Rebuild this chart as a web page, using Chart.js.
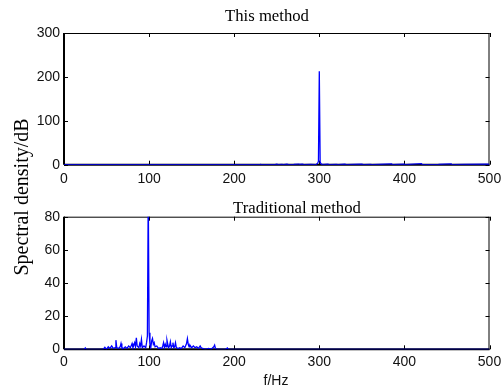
<!DOCTYPE html>
<html><head><meta charset="utf-8">
<script src="https://cdn.jsdelivr.net/npm/chart.js@4"></script>
<style>
html,body{margin:0;padding:0;background:#fff;}
#wrap{position:relative;width:501px;height:392px;background:#fff;}
canvas{position:absolute;left:0;top:0;}
</style></head><body>
<div id="wrap"><canvas id="c1" width="501" height="392"></canvas><canvas id="c2" width="501" height="392"></canvas></div>
<script>
const xTicks = [0, 100, 200, 300, 400, 500];
const topYTicks = [0, 100, 200, 300];
const botYTicks = [0, 20, 40, 60, 80];
const titles = ["This method", "Traditional method"];
const xLabel = "f/Hz";
const yLabel = "Spectral density/dB";

const thisFreq = [0, 230, 231, 232, 248, 250, 252, 256, 258, 262, 264, 270, 276, 277, 280, 282, 290, 296, 298, 299, 300, 301, 302, 303, 310, 312, 320, 322, 330, 332, 340, 350, 352, 360, 362, 370, 385, 386, 392, 400, 401, 420, 421, 440, 455, 456, 470, 498, 500];
const thisVal  = [0, 0,   0.5, 0,   0,   1,   0,   0.8, 0,   1,   0,   0.5, 1.5, 0.5, 1,   0,   0.5, 0,   3,   8,   213, 6,   2,   0,   1,   0,   0.8, 0,   1,   0,   0.5, 1,   0,   0.8, 0,   0.5, 2,   0,   0.5, 1.5, 0,   2.5, 0,   0.5, 2,   0,   0.5, 1,   0];

const tradFreq = [0, 24, 25, 26, 46, 48, 50, 52, 54, 56, 58, 60, 61, 62, 64, 66, 67, 68, 70, 72, 74, 76, 78, 80, 81, 83, 84, 85, 86, 88, 89, 90, 91, 92, 94, 96, 97, 98, 99, 100, 101, 102, 103, 104, 105, 106, 107, 109, 111, 113, 115, 116, 117, 118, 119, 120, 121, 122, 123, 124, 125, 126, 127, 128, 129, 130, 131, 132, 134, 136, 138, 140, 142, 144, 145, 146, 147, 148, 150, 152, 154, 156, 158, 160, 161, 163, 166, 170, 173, 176, 177, 178, 180, 190, 192, 193, 200, 500];
const tradVal  = [0, 0,  0.8, 0, 0,  1.2, 0,  1.5, 0.5, 2, 0.5, 1, 5.5, 1,  0.5, 1.5, 3.5, 1, 0.5, 1.5, 0.5, 2, 1,  3.5, 1,  4,  1.5, 7,  2,  1,  3.5, 2,  6,  1,  2,  1,  4,  8,  95, 10, 3,   1,   5,   6.5, 3,   4,   1.5, 2,   0.5, 1,   0.5, 2,   4,   1,   3,   1.5, 5.5, 3,   1,   2,   4.5, 1,   2,   4,   1,   1.5, 4,   1,   0.5, 1,   0.5, 2,   1,   3.5, 6.5, 3,   1.5, 2.5, 1,   2,   1,   1.5, 0.5, 2,   1,   0.5, 0,   0.5, 0,   1.5, 2.5, 0.5, 0,   0,   0.8, 0,   0,   0];

const SANS = "'Liberation Sans', Arial, sans-serif";
const SERIF = "'Liberation Serif', 'Times New Roman', serif";

const boxPlugin = {
  id: 'box',
  beforeDatasetsDraw(chart) {
    const ctx = chart.ctx, a = chart.chartArea;
    const xs = chart.scales.x, ys = chart.scales.y;
    ctx.save();
    ctx.strokeStyle = '#000';
    ctx.lineWidth = 1;
    ctx.beginPath();
    ctx.moveTo(a.left, a.top + 0.5); ctx.lineTo(a.right, a.top + 0.5);
    ctx.moveTo(a.right - 0.5, a.top); ctx.lineTo(a.right - 0.5, a.bottom);
    ctx.stroke();
    ctx.lineWidth = 2;
    ctx.beginPath();
    ctx.moveTo(a.left, a.top); ctx.lineTo(a.left, a.bottom);
    ctx.moveTo(a.left, a.bottom); ctx.lineTo(a.right, a.bottom);
    ctx.stroke();
    ctx.lineWidth = 1;
    ctx.beginPath();
    const tl = 4;
    xs.ticks.forEach(t => {
      const px = Math.round(xs.getPixelForValue(t.value)) + 0.5;
      ctx.moveTo(px, a.bottom); ctx.lineTo(px, a.bottom - tl);
      ctx.moveTo(px, a.top); ctx.lineTo(px, a.top + tl);
    });
    ys.ticks.forEach(t => {
      const py = Math.round(ys.getPixelForValue(t.value)) + 0.5;
      ctx.moveTo(a.left, py); ctx.lineTo(a.left + tl, py);
      ctx.moveTo(a.right, py); ctx.lineTo(a.right - tl, py);
    });
    ctx.stroke();
    ctx.restore();
  }
};

const textPlugin = {
  id: 'texts',
  afterDraw(chart) {
    const ctx = chart.ctx;
    ctx.save();
    ctx.fillStyle = '#000';
    ctx.textAlign = 'center';
    ctx.textBaseline = 'alphabetic';
    ctx.font = '16.7px ' + SERIF;
    ctx.fillText(titles[0], 267, 20.7);
    ctx.fillText(titles[1], 297, 213.3);
    ctx.font = '14px ' + SANS;
    ctx.fillStyle = '#111';
    ctx.textBaseline = 'middle';
    ctx.fillText(xLabel, 276, 381);
    ctx.translate(23, 197);
    ctx.rotate(-Math.PI / 2);
    ctx.font = '20px ' + SERIF;
    ctx.fillStyle = '#000';
    ctx.fillText(yLabel, 0, 0);
    ctx.restore();
  }
};

function makeChart(id, freq, vals, yMax, yTicks, pad, xH, xPad, extraPlugins) {
  const pts = freq.map((f, i) => ({ x: f, y: vals[i] }));
  return new Chart(document.getElementById(id), {
    type: 'line',
    data: { datasets: [{ data: pts, borderColor: '#0000ff', borderWidth: 1.3, pointRadius: 0, tension: 0, fill: false }] },
    options: {
      responsive: false, animation: false, devicePixelRatio: 1,
      layout: { padding: pad },
      plugins: { legend: { display: false }, tooltip: { enabled: false } },
      events: [],
      scales: {
        x: {
          type: 'linear', min: 0, max: 500,
          afterBuildTicks: s => { s.ticks = xTicks.map(v => ({ value: v })); },
          afterFit: s => { s.height = xH; s.paddingLeft = 0; s.paddingRight = 11.5; },
          grid: { display: false, drawTicks: false }, border: { display: false },
          ticks: { font: { family: SANS, size: 14 }, color: '#111', padding: xPad, maxRotation: 0, autoSkip: false }
        },
        y: {
          type: 'linear', min: 0, max: yMax,
          afterBuildTicks: s => { s.ticks = yTicks.map(v => ({ value: v })); },
          afterFit: s => { s.width = 64; },
          grid: { display: false, drawTicks: false }, border: { display: false },
          ticks: { font: { family: SANS, size: 14 }, color: '#111', padding: 4 }
        }
      }
    },
    plugins: [boxPlugin].concat(extraPlugins)
  });
}

makeChart('c1', thisFreq, thisVal, 300, topYTicks, { left: 0, top: 33, right: 0, bottom: 196 }, 31.3, 6, []);
makeChart('c2', tradFreq, tradVal, 80, botYTicks, { left: 0, top: 216.7, right: 0, bottom: 0 }, 42.7, 4, [textPlugin]);
</script>
</body></html>
